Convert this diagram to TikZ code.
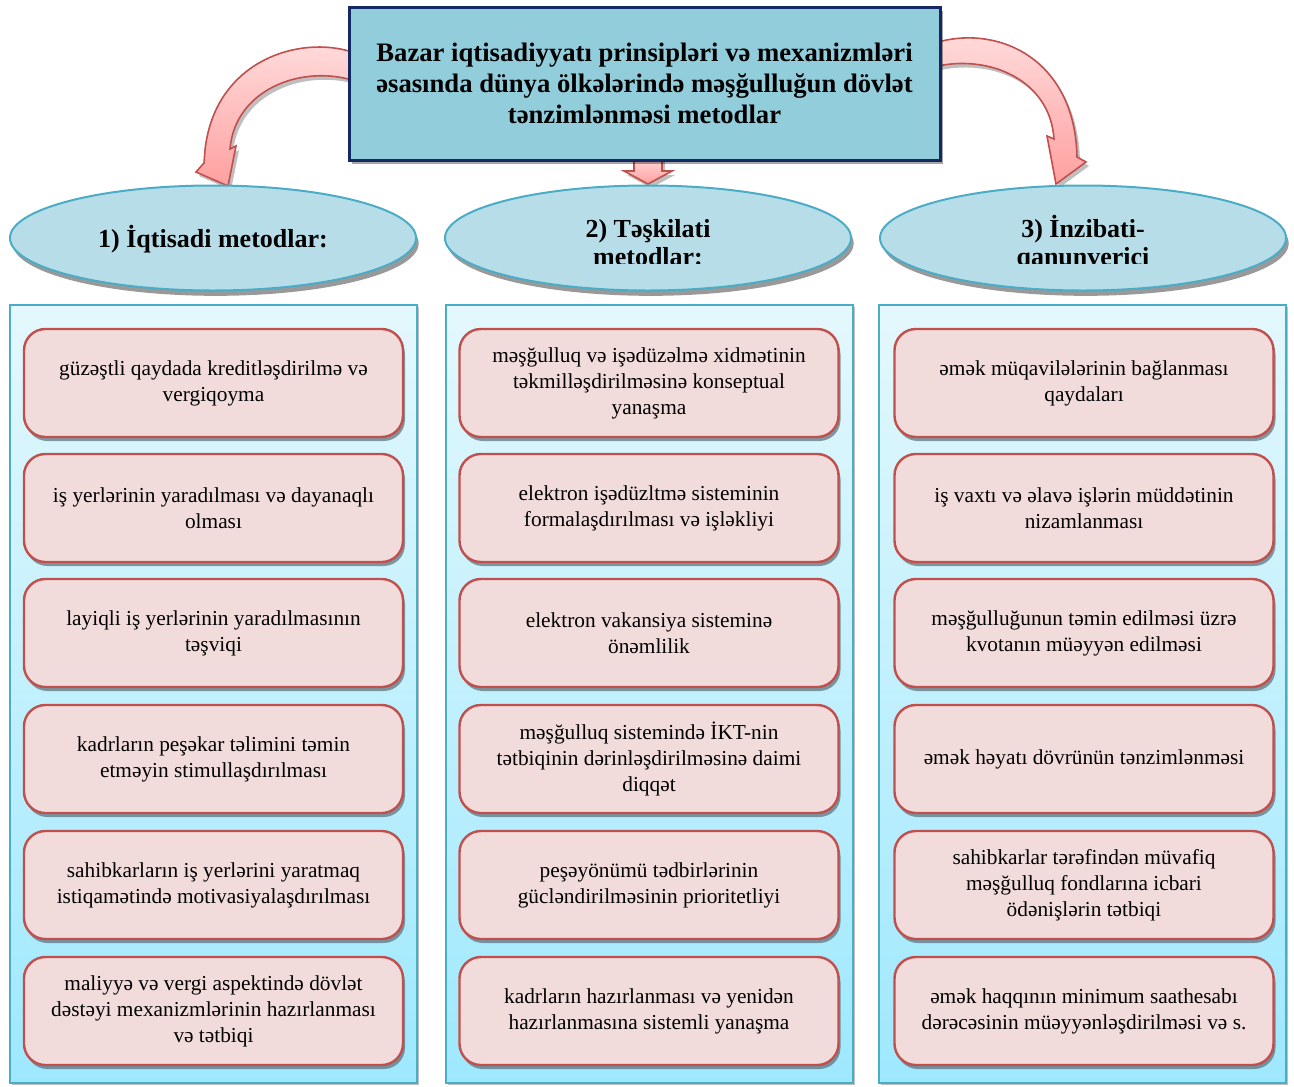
\documentclass[tikz,border=0pt]{standalone}
\usepackage{fontspec}
\setmainfont{Liberation Serif}
\usetikzlibrary{shapes.geometric,shadows}
\definecolor{titlefill}{RGB}{146,205,220}
\definecolor{titleborder}{RGB}{20,40,100}
\definecolor{ellfill}{RGB}{183,222,232}
\definecolor{ellborder}{RGB}{75,172,198}
\definecolor{paneltop}{RGB}{228,248,253}
\definecolor{panelbot}{RGB}{158,232,254}
\definecolor{panelborder}{RGB}{75,172,198}
\definecolor{boxfill}{RGB}{242,220,219}
\definecolor{boxborder}{RGB}{192,80,77}
\definecolor{shadowc}{RGB}{90,110,120}
\definecolor{arrowlight}{RGB}{255,222,222}
\definecolor{arrowdark}{RGB}{255,160,160}
\begin{document}
\begin{tikzpicture}[x=0.75pt,y=-0.75pt,
  titlebox/.style={rectangle, draw=titleborder, line width=2.25pt, fill=titlefill,
    minimum width=443.25pt, minimum height=114.75pt, inner sep=0pt, align=center,
    font=\fontsize{20}{23.25}\selectfont\bfseries,
    drop shadow={shadow xshift=2.5pt, shadow yshift=-3pt, fill=black, opacity=0.35}},
  ellnode/.style={ellipse, draw=ellborder, line width=1.5pt, fill=ellfill,
    minimum width=304.5pt, minimum height=78.75pt, inner sep=0pt,
    drop shadow={shadow xshift=2pt, shadow yshift=-4pt, fill=gray, opacity=0.8}},
  elltext/.style={anchor=base, inner sep=0pt, font=\fontsize{19.5}{21}\selectfont\bfseries},
  panel/.style={rectangle, draw=panelborder, line width=1.5pt, top color=paneltop, bottom color=panelbot,
    minimum width=305.25pt, minimum height=583.5pt, inner sep=0pt,
    drop shadow={shadow xshift=1.5pt, shadow yshift=-1.5pt, fill=gray, opacity=0.5}},
  itembox/.style={rectangle, rounded corners=16pt, draw=boxborder, line width=1.8pt, fill=boxfill,
    minimum width=284.25pt, minimum height=81pt, inner sep=0pt, align=center,
    font=\fontsize{16}{19.5}\selectfont,
    drop shadow={shadow xshift=1.5pt, shadow yshift=-3pt, fill=shadowc, opacity=0.7}},
  bigarrow/.style={draw=boxborder, line width=1.2pt, top color=arrowlight, bottom color=arrowdark},
  arrowshadow/.style={fill=gray, opacity=0.5}
]
\useasboundingbox (0,0) rectangle (1294,1086);

% curved block arrows (behind title box)
\fill[arrowshadow, shift={(3,4)}] (352,52) .. controls (300,35) and (215,60) .. (205,150) -- (204,163) -- (196,172) -- (228,186) -- (236,146) -- (230,149) .. controls (235,90) and (300,65) .. (352,80) -- cycle;
\path[bigarrow] (352,52) .. controls (300,35) and (215,60) .. (205,150) -- (204,163) -- (196,172) -- (228,186) -- (236,146) -- (230,149) .. controls (235,90) and (300,65) .. (352,80) -- cycle;

\fill[arrowshadow, shift={(3,4)}] (938,42) .. controls (1000,25) and (1075,60) .. (1077,157) -- (1086,162) -- (1056,184) -- (1047,136) -- (1054,139) .. controls (1050,80) and (990,55) .. (938,66) -- cycle;
\path[bigarrow] (938,42) .. controls (1000,25) and (1075,60) .. (1077,157) -- (1086,162) -- (1056,184) -- (1047,136) -- (1054,139) .. controls (1050,80) and (990,55) .. (938,66) -- cycle;

\fill[arrowshadow, shift={(3,4)}] (634,155) -- (662,155) -- (662,171) -- (672,171) -- (648,184) -- (624,171) -- (634,171) -- cycle;
\path[bigarrow] (634,155) -- (662,155) -- (662,171) -- (672,171) -- (648,184) -- (624,171) -- (634,171) -- cycle;

% title
\node[titlebox] (title) at (644.5,83.5) {Bazar iqtisadiyyatı prinsipləri və mexanizmləri\\əsasında dünya ölkələrində məşğulluğun dövlət\\tənzimlənməsi metodlar};

% ellipses
\node[ellnode] (e1) at (213,238) {};
\node[ellnode] (e2) at (648,238) {};
\node[ellnode] (e3) at (1083,238) {};
\node[elltext] (e1t) at (213,247) {1) İqtisadi metodlar:};
\begin{scope}
\clip (440,195) rectangle (1290,263.5);
\node[elltext] (e2t1) at (648,237) {2) Təşkilati};
\node[elltext] (e2t2) at (648,265) {metodlar:};
\node[elltext] (e3t1) at (1083,237) {3) İnzibati-};
\node[elltext] (e3t2) at (1083,265) {qanunverici};
\end{scope}

% panels
\node[panel] (p1) at (213.5,694) {};
\node[panel] (p2) at (649.5,694) {};
\node[panel] (p3) at (1082.5,694) {};

% column 1
\node[itembox] (b11) at (213.5,383) {güzəştli qaydada kreditləşdirilmə və\\vergiqoyma};
\node[itembox] (b12) at (213.5,508) {iş yerlərinin yaradılması və dayanaqlı\\olması};
\node[itembox] (b13) at (213.5,633) {layiqli iş yerlərinin yaradılmasının\\təşviqi};
\node[itembox] (b14) at (213.5,759) {kadrların peşəkar təlimini təmin\\etməyin stimullaşdırılması};
\node[itembox] (b15) at (213.5,885) {sahibkarların iş yerlərini yaratmaq\\istiqamətində motivasiyalaşdırılması};
\node[itembox] (b16) at (213.5,1011) {maliyyə və vergi aspektində dövlət\\dəstəyi mexanizmlərinin hazırlanması\\və tətbiqi};

% column 2
\node[itembox] (b21) at (649,383) {məşğulluq və işədüzəlmə xidmətinin\\təkmilləşdirilməsinə konseptual\\yanaşma};
\node[itembox] (b22) at (649,508) {elektron işədüzltmə sisteminin\\formalaşdırılması və işləkliyi};
\node[itembox] (b23) at (649,633) {elektron vakansiya sisteminə\\önəmlilik};
\node[itembox] (b24) at (649,759) {məşğulluq sistemində İKT-nin\\tətbiqinin dərinləşdirilməsinə daimi\\diqqət};
\node[itembox] (b25) at (649,885) {peşəyönümü tədbirlərinin\\gücləndirilməsinin prioritetliyi};
\node[itembox] (b26) at (649,1011) {kadrların hazırlanması və yenidən\\hazırlanmasına sistemli yanaşma};

% column 3
\node[itembox] (b31) at (1084,383) {əmək müqavilələrinin bağlanması\\qaydaları};
\node[itembox] (b32) at (1084,508) {iş vaxtı və əlavə işlərin müddətinin\\nizamlanması};
\node[itembox] (b33) at (1084,633) {məşğulluğunun təmin edilməsi üzrə\\kvotanın müəyyən edilməsi};
\node[itembox] (b34) at (1084,759) {əmək həyatı dövrünün tənzimlənməsi};
\node[itembox] (b35) at (1084,885) {sahibkarlar tərəfindən müvafiq\\məşğulluq fondlarına icbari\\ödənişlərin tətbiqi};
\node[itembox] (b36) at (1084,1011) {əmək haqqının minimum saathesabı\\dərəcəsinin müəyyənləşdirilməsi və s.};
\end{tikzpicture}
\end{document}
